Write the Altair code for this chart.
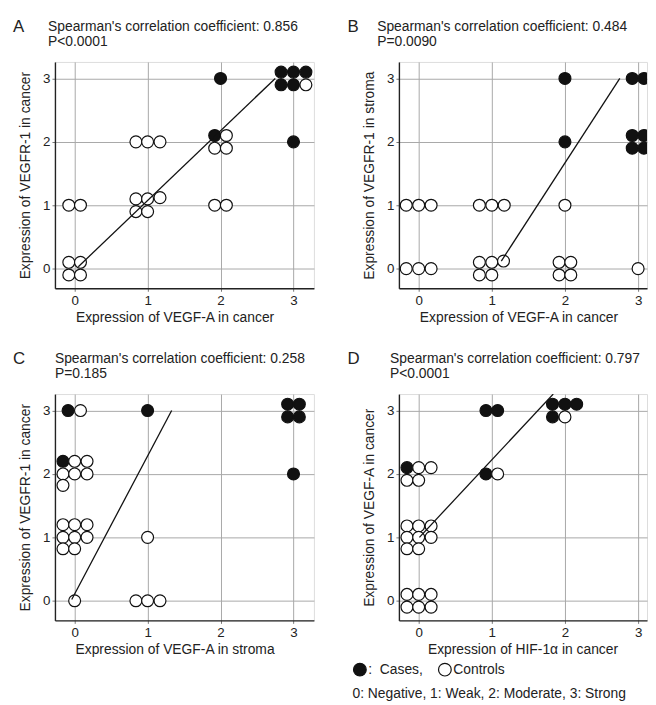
import altair as alt
import pandas as pd

FONT = "Liberation Sans"
TXT = "#222222"
INK = "#111111"

letters = ["A", "B", "C", "D"]
titles = [
    "Spearman's correlation coefficient: 0.856",
    "Spearman's correlation coefficient: 0.484",
    "Spearman's correlation coefficient: 0.258",
    "Spearman's correlation coefficient: 0.797",
]
pvals = ["P<0.0001", "P=0.0090", "P=0.185", "P<0.0001"]
x_titles = [
    "Expression of VEGF-A in cancer",
    "Expression of VEGF-A in cancer",
    "Expression of VEGF-A in stroma",
    "Expression of HIF-1\u03b1 in cancer",
]
y_titles = [
    "Expression of VEGFR-1 in cancer",
    "Expression of VEGFR-1 in stroma",
    "Expression of VEGFR-1 in cancer",
    "Expression of VEGF-A in cancer",
]
ticks = [0, 1, 2, 3]
groups = ["Cases", "Controls"]
legend_note = "0: Negative, 1: Weak, 2: Moderate, 3: Strong"

# Panel A (jittered positions as drawn)
a_case_x = [2, 1.92, 3, 2.83, 3, 3.17, 2.83, 3]
a_case_y = [3, 2.1, 2, 3.1, 3.1, 3.1, 2.9, 2.9]
a_ctrl_x = [-0.08, 0.08, -0.08, 0.08, -0.08, 0.08, 0.84, 1, 1.17, 0.84, 1,
            0.84, 1, 1.17, 2.08, 1.92, 2.08, 1.92, 2.08, 3.17]
a_ctrl_y = [0.1, 0.1, -0.1, -0.1, 1, 1, 1.1, 1.1, 1.12, 0.9, 0.9,
            2, 2, 2, 2.1, 1.9, 1.9, 1, 1, 2.9]
a_line_x = [0.05, 2.75]
a_line_y = [0.03, 3.0]

# Panel B
b_case_x = [2, 2, 2.92, 3.08, 2.92, 3.08, 2.92, 3.08]
b_case_y = [3, 2, 3, 3, 2.1, 2.1, 1.9, 1.9]
b_ctrl_x = [-0.17, 0, 0.17, -0.17, 0, 0.17, 0.83, 1, 1.17,
            0.83, 1, 1.16, 0.83, 1, 2, 1.92, 2.08, 1.92, 2.08, 3]
b_ctrl_y = [1, 1, 1, 0, 0, 0, 1, 1, 1,
            0.1, 0.1, 0.12, -0.1, -0.1, 1, 0.1, 0.1, -0.1, -0.1, 0]
b_line_x = [1.13, 2.75]
b_line_y = [0.12, 3.0]

# Panel C
c_case_x = [-0.09, 1, -0.16, 2.92, 3.08, 2.92, 3.08, 3]
c_case_y = [3, 3, 2.2, 3.1, 3.1, 2.9, 2.9, 2]
c_ctrl_x = [0.08, 0, 0.17, -0.16, 0, 0.17, -0.16,
            -0.16, 0, 0.17, -0.16, 0, 0.17, -0.16, 0,
            0, 1, 0.84, 1, 1.17]
c_ctrl_y = [3, 2.2, 2.2, 2, 2, 2, 1.82,
            1.2, 1.2, 1.2, 1, 1, 1, 0.82, 0.82,
            0, 1, 0, 0, 0]
c_line_x = [-0.04, 1.33]
c_line_y = [0.02, 3.0]

# Panel D
d_case_x = [-0.16, 0.92, 1.08, 0.92, 1.83, 2, 2.16, 1.83]
d_case_y = [2.1, 3, 3, 2, 3.1, 3.1, 3.1, 2.9]
d_ctrl_x = [0, 0.17, -0.16, 0,
            -0.16, 0, 0.17, -0.16, 0, 0.17, -0.16, 0,
            -0.16, 0, 0.17, -0.16, 0, 0.17,
            1.08, 2]
d_ctrl_y = [2.1, 2.1, 1.9, 1.9,
            1.18, 1.18, 1.18, 1, 1, 1, 0.82, 0.82,
            0.1, 0.1, 0.1, -0.1, -0.1, -0.1,
            2, 2.9]
d_line_x = [0.01, 1.84]
d_line_y = [1.0, 3.26]

LEG = alt.Legend(
    orient="none", legendX=301, legendY=607, direction="horizontal", columns=2,
    title=legend_note, titleOrient="bottom", titleAnchor="start",
    titleFont=FONT, titleFontSize=14, titleFontWeight="normal", titleColor=TXT,
    titlePadding=9, titleLimit=600,
    labelFont=FONT, labelFontSize=14, labelColor=TXT, labelLimit=300,
    labelExpr="datum.value == 'Cases' ? '\u00a0:\u00a0\u00a0Cases,' : 'Controls'",
    symbolType="circle", symbolSize=165, symbolStrokeColor=INK, symbolStrokeWidth=1.2,
    symbolOpacity=1, columnPadding=12, labelOffset=1, padding=0,
)


def panel(i, cx, cy, ox, oy, lx, ly, xmax, width, title_dx, letter_dx, xtitle_x, clip):
    df = pd.DataFrame({
        "x": cx + ox,
        "y": cy + oy,
        "group": [groups[0]] * len(cx) + [groups[1]] * len(ox),
    })
    xs = alt.Scale(domain=[-0.27, xmax], nice=False, zero=False)
    ys = alt.Scale(domain=[-0.31, 3.26], nice=False, zero=False)
    common = dict(
        values=ticks, format="d", grid=True, gridColor="#a8a8a8", gridWidth=1,
        domainColor="#222222", domainWidth=1.4, tickColor="#777777", tickSize=3,
        labelFont=FONT, labelFontSize=13.5, labelColor=TXT, labelPadding=2,
        titleFont=FONT, titleFontSize=14, titleFontWeight="normal", titleColor=TXT,
    )
    xa = alt.Axis(title=x_titles[i], titleX=xtitle_x, titlePadding=4, **common)
    ya = alt.Axis(title=y_titles[i], titlePadding=10, **common)
    pts = alt.Chart(df).mark_circle(
        size=145, stroke=INK, strokeWidth=1.2, opacity=1, clip=clip
    ).encode(
        x=alt.X("x:Q", scale=xs, axis=xa),
        y=alt.Y("y:Q", scale=ys, axis=ya),
        fill=alt.Fill("group:N", scale=alt.Scale(domain=groups, range=[INK, "#ffffff"]), legend=LEG),
    )
    ln = alt.Chart(pd.DataFrame({"x": lx, "y": ly})).mark_line(
        color=INK, strokeWidth=1.3, clip=clip
    ).encode(x="x:Q", y="y:Q")
    head = pd.DataFrame({"letter": [letters[i]], "t1": [titles[i]], "t2": [pvals[i]]})
    base = alt.Chart(head)
    lt = base.mark_text(
        align="left", baseline="middle", fontSize=17, font=FONT, color=TXT
    ).encode(text="letter:N", x=alt.value(letter_dx), y=alt.value(-35))
    t1 = base.mark_text(
        align="left", baseline="middle", fontSize=14, font=FONT, color=TXT
    ).encode(text="t1:N", x=alt.value(title_dx), y=alt.value(-35))
    t2 = base.mark_text(
        align="left", baseline="middle", fontSize=14, font=FONT, color=TXT
    ).encode(text="t2:N", x=alt.value(title_dx), y=alt.value(-20))
    return alt.layer(pts, ln, lt, t1, t2).properties(width=width, height=229)


pA = panel(0, a_case_x, a_case_y, a_ctrl_x, a_ctrl_y, a_line_x, a_line_y,
           3.28, 262, -7, -42.5, 121, False)
pB = panel(1, b_case_x, b_case_y, b_ctrl_x, b_ctrl_y, b_line_x, b_line_y,
           3.122, 251, -22, -52, 121, True)
pC = panel(2, c_case_x, c_case_y, c_ctrl_x, c_ctrl_y, c_line_x, c_line_y,
           3.28, 262, 0, -42.5, 121, False)
pD = panel(3, d_case_x, d_case_y, d_ctrl_x, d_ctrl_y, d_line_x, d_line_y,
           3.122, 251, -9, -52, 125, True)

chart = alt.concat(
    pA, pB, pC, pD, columns=2, spacing={"row": 107, "column": 86}, bounds="flush"
).properties(
    padding={"left": 4.5, "top": 5.5, "right": 0, "bottom": 0}
).configure_view(stroke=None).configure(background="white")

chart.save("out.html", embed_options={"renderer": "svg", "actions": False})
